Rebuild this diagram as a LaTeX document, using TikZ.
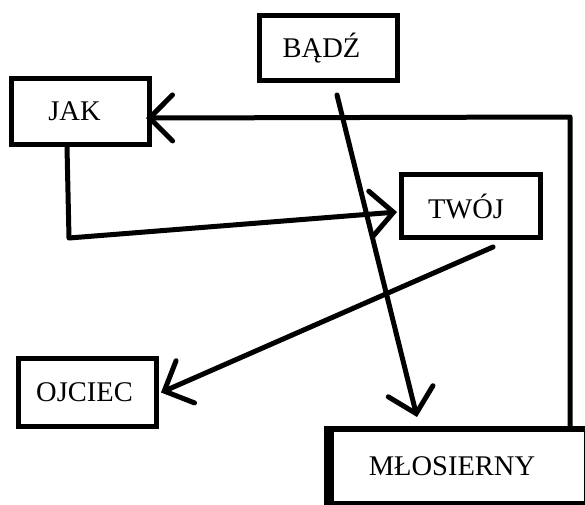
\documentclass[tikz,border=0pt]{standalone}
\usepackage{fontspec}
\setmainfont{Liberation Serif}
\usetikzlibrary{arrows.meta}
\tikzset{
  box/.style={draw, line width=5pt, inner sep=0pt, font=\fontsize{28.5}{32}\selectfont},
  conn/.style={line width=5pt, line cap=round, line join=round,
    -{Straight Barb[length=23pt, width=46pt, line cap=round]}}
}
\begin{document}
\begin{tikzpicture}[x=1pt, y=-1pt]
\useasboundingbox (0,0) rectangle (585,504);
\node[box, minimum width=138pt, minimum height=66pt] (jak) at (80.5,111.5) {\hspace*{-12pt}JAK};
\node[box, minimum width=138pt, minimum height=65pt] (b) at (328.5,48) {\hspace*{-14pt}BĄDŹ};
\node[box, minimum width=139pt, minimum height=63pt] (tw) at (471,206) {\hspace*{-10pt}TWÓJ};
\node[box, minimum width=138pt, minimum height=68pt] (oj) at (87.5,392.5) {\hspace*{-6pt}OJCIEC};
\node[box, line width=6pt, minimum width=257pt, minimum height=75pt] (m) at (458,466.5) {\hspace*{-12pt}MŁOSIERNY};
\draw[line width=10pt] ([xshift=2pt]m.north west) -- ([xshift=2pt]m.south west);
\coordinate (rc) at (570,117);
\coordinate (bend) at (69,238);
\draw[conn] (m.north -| rc) -- (rc) -- ([xshift=-6pt,yshift=-6.5pt]jak.east);
\draw[conn] ([xshift=-13.5pt]jak.south) -- (bend) -- ([xshift=-2pt,yshift=-6pt]tw.west);
\draw[conn] ([xshift=8.5pt,yshift=-12pt]b.south) -- ([xshift=-41pt,yshift=9pt]m.north);
\draw[conn] ([xshift=22pt,yshift=-7pt]tw.south) -- ([xshift=2pt]oj.east);
\end{tikzpicture}
\end{document}
